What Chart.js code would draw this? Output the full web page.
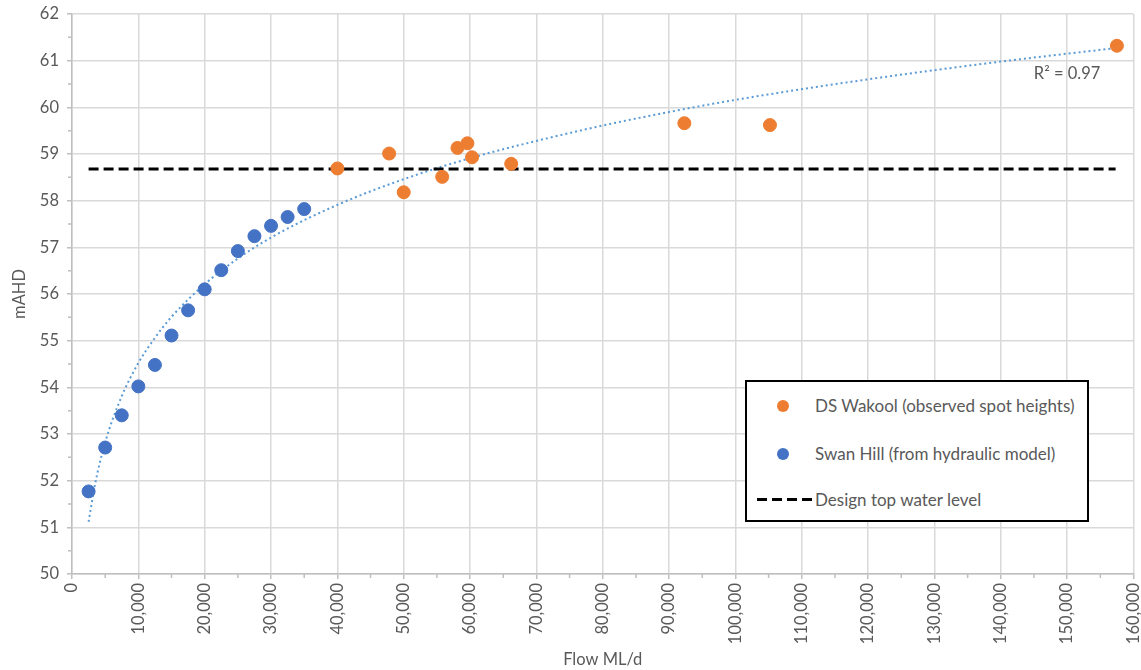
<!DOCTYPE html>
<html>
<head>
<meta charset="utf-8">
<script src="https://cdn.jsdelivr.net/npm/chart.js@4.4.1/dist/chart.umd.min.js"></script>
<style>
  html, body { margin: 0; padding: 0; background: #fff; }
  #wrap { position: relative; width: 1141px; height: 670px; }
  #legend {
    position: absolute; left: 745px; top: 380px; width: 340px; height: 138px;
    border: 2px solid #000; background: #fff;
    font-family: Lato, 'Open Sans', sans-serif; font-size: 17px; color: #595959;
  }
  .item { position: absolute; left: 0; height: 20px; line-height: 20px; }
  .dot { position: absolute; left: 30px; top: 4px; width: 12px; height: 12px; border-radius: 50%; }
  .dash { position: absolute; left: 10px; top: 8px; width: 56px; height: 3px;
          background: repeating-linear-gradient(to right, #000 0 10px, transparent 10px 15px); }
  .lbl { position: absolute; left: 68px; white-space: nowrap; }
</style>
</head>
<body>
<div id="wrap">
  <canvas id="curveChart" width="1141" height="670"></canvas>
  <div id="legend">
    <div class="item" style="top:14px"><span class="dot" style="background:#ED7D31"></span><span class="lbl">DS Wakool (observed spot heights)</span></div>
    <div class="item" style="top:62px"><span class="dot" style="background:#4472C4"></span><span class="lbl">Swan Hill (from hydraulic model)</span></div>
    <div class="item" style="top:108px"><span class="dash"></span><span class="lbl">Design top water level</span></div>
  </div>
</div>
<script>
// Swan Hill (hydraulic model)
const swanFlow = [2500, 5000, 7500, 10000, 12500, 15000, 17500, 20000, 22500, 25000, 27500, 30000, 32500, 35000];
const swanLevel = [51.77, 52.71, 53.40, 54.02, 54.48, 55.11, 55.65, 56.10, 56.51, 56.92, 57.24, 57.46, 57.65, 57.82];

// DS Wakool (observed)
const wakoolFlow = [40000, 47800, 50000, 55800, 58100, 59600, 60300, 66200, 92300, 105200, 157500];
const wakoolLevel = [58.69, 59.01, 58.18, 58.51, 59.13, 59.23, 58.93, 58.79, 59.66, 59.62, 61.32];

// trendline
const trendFlow = [2500, 3500, 5000, 7500, 10000, 12500, 15000, 20000, 25000, 30000, 40000, 50000, 60000, 70000, 80000, 90000, 100000, 120000, 140000, 157300];
const trendLevel = [51.12, 51.94, 52.82, 53.81, 54.52, 55.06, 55.51, 56.21, 56.76, 57.21, 57.91, 58.46, 58.91, 59.28, 59.61, 59.90, 60.16, 60.60, 60.98, 61.27];

const designFlow = [2500, 157300];
const designLevel = 58.68;

const xTicks = [0, 160000, 10000]; // min, max, step
const yTicks = [50, 62, 1];

const pts = (xs, ys) => xs.map((x, i) => ({ x: x, y: Array.isArray(ys) ? ys[i] : ys }));

const grey = '#595959';
const font = 'Lato, "Open Sans", sans-serif';

const r2Label = {
    id: 'r2Label',
    afterDatasetsDraw(chart) {
        const { ctx, scales } = chart;
        ctx.save();
        ctx.font = '16.5px ' + font;
        ctx.fillStyle = grey;
        ctx.textAlign = 'right';
        ctx.textBaseline = 'middle';
        ctx.fillText('R² = 0.97', scales.x.getPixelForValue(155000), scales.y.getPixelForValue(60.73));
        ctx.restore();
    }
};

// minor tick marks halfway between the major ones, outside the axes
const minorTicks = {
    id: 'minorTicks',
    afterDraw(chart) {
        const { ctx, scales: { x, y } } = chart;
        ctx.save();
        ctx.strokeStyle = '#bfbfbf';
        ctx.lineWidth = 1.5;
        ctx.beginPath();
        for (let v = xTicks[0] + xTicks[2] / 2; v < xTicks[1]; v += xTicks[2]) {
            const px = x.getPixelForValue(v);
            ctx.moveTo(px, y.bottom);
            ctx.lineTo(px, y.bottom + 4);
        }
        for (let v = yTicks[0] + yTicks[2] / 2; v < yTicks[1]; v += yTicks[2]) {
            const py = y.getPixelForValue(v);
            ctx.moveTo(x.left, py);
            ctx.lineTo(x.left - 4, py);
        }
        ctx.stroke();
        ctx.restore();
    }
};

new Chart(document.getElementById('curveChart').getContext('2d'), {
    type: 'scatter',
    data: {
        datasets: [
            {
                label: 'DS Wakool (observed spot heights)',
                data: pts(wakoolFlow, wakoolLevel),
                backgroundColor: '#ED7D31',
                borderColor: '#ED7D31',
                pointRadius: 6.5,
                order: 1
            },
            {
                label: 'Swan Hill (from hydraulic model)',
                data: pts(swanFlow, swanLevel),
                backgroundColor: '#4472C4',
                borderColor: '#4472C4',
                pointRadius: 6.5,
                order: 2
            },
            {
                label: 'Design top water level',
                data: pts(designFlow, designLevel),
                showLine: true,
                borderColor: '#000',
                borderWidth: 3,
                borderDash: [10, 5],
                pointRadius: 0,
                order: 3
            },
            {
                label: 'Trend',
                data: pts(trendFlow, trendLevel),
                showLine: true,
                borderColor: '#5B9BD5',
                borderWidth: 2,
                borderDash: [2, 3],
                cubicInterpolationMode: 'monotone',
                pointRadius: 0,
                order: 4
            }
        ]
    },
    options: {
        responsive: false,
        animation: false,
        layout: { padding: { top: 14, right: 4, left: 0, bottom: 0 } },
        plugins: {
            legend: { display: false },
            tooltip: { enabled: false }
        },
        scales: {
            x: {
                type: 'linear',
                min: xTicks[0],
                max: xTicks[1],
                afterFit(s) { s.height = 96; s.paddingLeft = 0; s.paddingRight = 0; },
                ticks: {
                    stepSize: xTicks[2],
                    autoSkip: false,
                    minRotation: 90,
                    maxRotation: 90,
                    color: grey,
                    font: { size: 16.5, family: font },
                    padding: 4,
                    callback: v => v.toLocaleString('en-US')
                },
                grid: { color: '#d9d9d9', lineWidth: 1.5, tickLength: 5, tickColor: '#bfbfbf' },
                border: { color: '#bfbfbf', width: 1.5 },
                title: {
                    display: true,
                    text: 'Flow ML/d',
                    color: grey,
                    font: { size: 16.5, family: font },
                    padding: { top: 1, bottom: 0 }
                }
            },
            y: {
                min: yTicks[0],
                max: yTicks[1],
                afterFit(s) { s.width = 72; s.paddingTop = 0; s.paddingBottom = 0; },
                ticks: {
                    stepSize: yTicks[2],
                    color: grey,
                    font: { size: 16.5, family: font },
                    padding: 8
                },
                grid: { color: '#d9d9d9', lineWidth: 1.5, tickLength: 5, tickColor: '#bfbfbf' },
                border: { color: '#bfbfbf', width: 1.5 },
                title: {
                    display: true,
                    text: 'mAHD',
                    color: grey,
                    font: { size: 16.5, family: font },
                    padding: { top: 10, bottom: 0 }
                }
            }
        }
    },
    plugins: [r2Label, minorTicks]
});
</script>
</body>
</html>
